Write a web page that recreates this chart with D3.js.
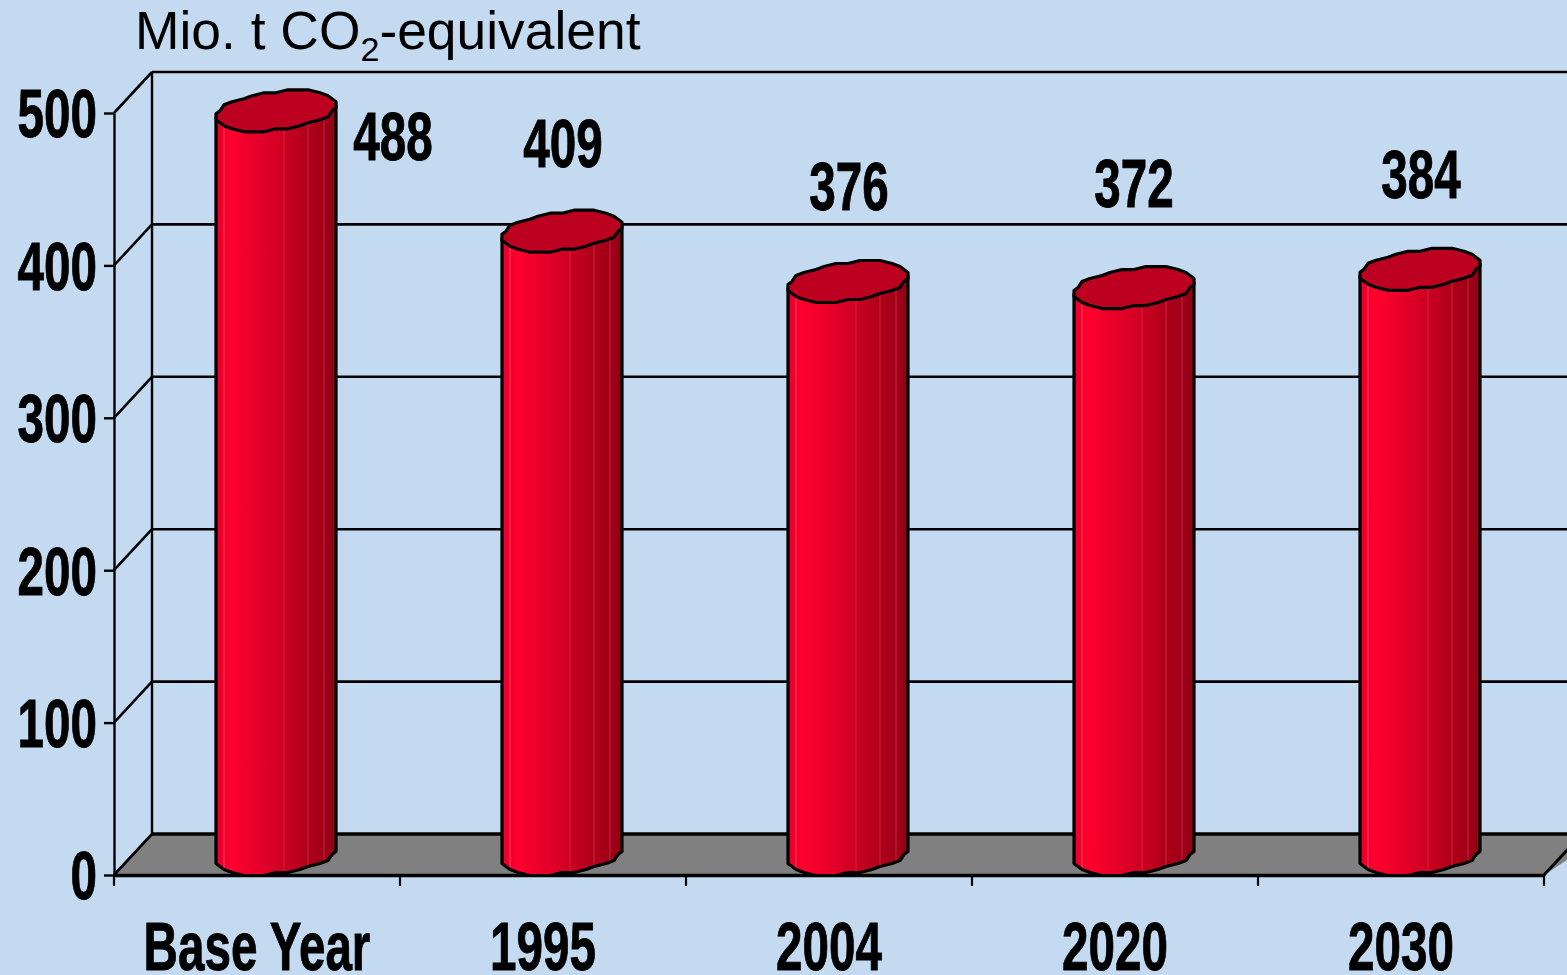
<!DOCTYPE html>
<html><head><meta charset="utf-8">
<script src="https://cdn.jsdelivr.net/npm/d3@7"></script>
<style>
html,body{margin:0;padding:0;background:#c3daf1;overflow:hidden}
svg{display:block}
.b{font-family:"Liberation Sans Narrow","Liberation Sans",Arial,sans-serif;font-weight:700;font-size:68px;fill:#000;stroke:#000;stroke-width:.9px}
.t{font-family:"Liberation Sans",Arial,sans-serif;font-size:53.4px;fill:#000}
</style></head><body>
<script>
const categories=["Base Year","1995","2004","2020","2030"];
const values=[488,409,376,372,384];
const yTicks=[0,100,200,300,400,500];
const labelX=[393,563,849,1134,1421];
const labelBaseline=[160,167,210,207,198];
const facetAngles=[-131.7,-65.5,-38,-16.8];

const W=1567,H=975,dx=38,dy=41,rDepth=0.5,N=32,capA=57.4;
const x=d3.scaleBand().domain(categories).range([114,1544]);
const y=d3.scaleLinear().domain([0,500]).range([875,113]);
const svg=d3.select("body").append("svg").attr("width",W).attr("height",H);

const defs=svg.append("defs");
const grad=defs.append("linearGradient").attr("id","cyl").attr("x1",0).attr("x2",1).attr("y1",0).attr("y2",0);
[[0,"#e4002a"],[.12,"#ff002e"],[.45,"#dc0026"],[.75,"#b00019"],[.9,"#a00018"],[1,"#8f0016"]]
 .forEach(s=>grad.append("stop").attr("offset",s[0]).attr("stop-color",s[1]));

// floor
svg.append("path").attr("fill","#808080")
 .attr("d",d3.line()([[114,y(0)],[152,y(0)-dy],[W+40,y(0)-dy],[1544,y(0)]]));

const lines=svg.append("g").attr("stroke","#000").attr("fill","none");
yTicks.forEach(v=>{
 lines.append("line").attr("x1",114+dx).attr("x2",W).attr("y1",y(v)-dy).attr("y2",y(v)-dy).attr("stroke-width",v===0?3.5:2.6);
 lines.append("line").attr("x1",114).attr("x2",114+dx).attr("y1",y(v)).attr("y2",y(v)-dy).attr("stroke-width",2.6);
});
lines.append("line").attr("x1",114+dx).attr("x2",114+dx).attr("y1",y(500)-dy).attr("y2",y(0)-dy).attr("stroke-width",2.4);
lines.append("line").attr("x1",1544).attr("x2",1544+dx).attr("y1",y(0)).attr("y2",y(0)-dy).attr("stroke-width",3);

// y axis
const ya=svg.append("g").attr("transform","translate(114,0)")
 .call(d3.axisLeft(y).tickValues(yTicks).tickSize(10).tickPadding(7).tickSizeOuter(0));
ya.select(".domain").attr("stroke","#000").attr("stroke-width",2.4);
ya.selectAll(".tick line").attr("stroke","#000").attr("stroke-width",2.4);
ya.selectAll("text").attr("class","b").attr("dy","0.35em").attr("font-family",null).attr("font-size",null);

// x axis
const xa=svg.append("g").attr("transform",`translate(0,${y(0)})`)
 .call(d3.axisBottom(x).tickSize(0).tickPadding(0).tickSizeOuter(0));
xa.select(".domain").attr("stroke","#000").attr("stroke-width",3.5);
xa.selectAll("text").attr("class","b").attr("y",95).attr("dy",0);
xa.selectAll(".edge").data(categories.concat([null])).enter().append("line")
 .attr("x1",(d,i)=>i<categories.length?x(d):1544).attr("x2",(d,i)=>i<categories.length?x(d):1544)
 .attr("y1",0).attr("y2",11).attr("stroke","#000").attr("stroke-width",2.2);

// cylinders: outline snapped to a coarse grid, as in the faceted original
function pt(cx,cy,deg){
 const t=deg*Math.PI/180;
 const px=capA*Math.cos(t)+dx*rDepth*Math.sin(t), py=-dy*rDepth*Math.sin(t);
 return [cx+Math.round(px/4)*4, cy+Math.round(py/3)*3];
}
const tRight=Math.atan2(dx*rDepth,capA)*180/Math.PI;
const tLeft=tRight-180;
const step=360/N;
const line=d3.line();
const bars=svg.append("g").selectAll("g").data(categories).enter().append("g");
bars.each(function(c,i){
 const g=d3.select(this);
 const cx=x(c)+x.bandwidth()/2+dx*rDepth;
 const base=y(0)-dy*rDepth;
 const top=y(values[i])-dy*rDepth;
 const front=d3.range(N/2+1).map(k=>tLeft+k*step);
 const lower=front.map(a=>pt(cx,base,a));
 const upperL=pt(cx,top,tLeft), upperR=pt(cx,top,tRight);
 g.append("path").attr("fill","url(#cyl)")
  .attr("d",line([upperL,...lower,upperR])+"Z");
 facetAngles.forEach((a,k)=>{
  const p=pt(cx,top,a),q=pt(cx,base,a);
  g.append("line").attr("x1",p[0]).attr("x2",p[0]).attr("y1",p[1]).attr("y2",q[1])
   .attr("stroke",k===0?"#ff5a70":"#d8304a").attr("stroke-opacity",.7).attr("stroke-width",1);
 });
 g.append("path").attr("fill","none").attr("stroke","#000").attr("stroke-width",3.2).attr("stroke-linejoin","round")
  .attr("d",line([upperL,...lower,upperR]));
 const cap=d3.range(N).map(k=>pt(cx,top,tRight+k*step));
 g.append("path").attr("fill","#bd001f").attr("stroke","#000").attr("stroke-width",3.2).attr("stroke-linejoin","round")
  .attr("d",line(cap)+"Z");
});

// data labels
svg.append("g").selectAll("text").data(values).enter().append("text")
 .attr("class","b").attr("text-anchor","middle")
 .attr("x",(d,i)=>labelX[i]).attr("y",(d,i)=>labelBaseline[i]).text(d=>d);

// horizontally compress bold text to match
svg.selectAll("text.b").each(function(){
 d3.select(this).attr("textLength",this.getComputedTextLength()*0.7).attr("lengthAdjust","spacingAndGlyphs");
});

// title
const title=svg.append("text").attr("class","t").attr("x",135).attr("y",49);
title.append("tspan").text("Mio. t CO");
title.append("tspan").attr("dy",12).attr("font-size",34).text("2");
title.append("tspan").attr("dy",-12).text("-equivalent");
</script>
</body></html>
